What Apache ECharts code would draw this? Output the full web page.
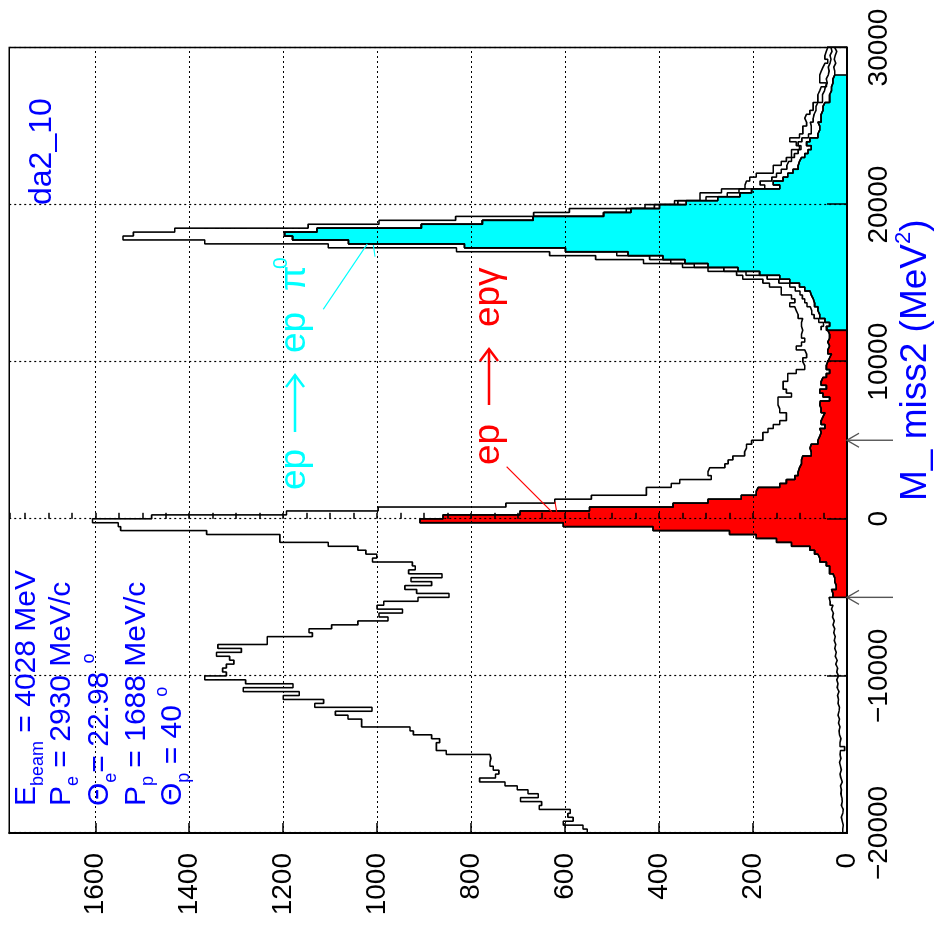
<!DOCTYPE html>
<html>
<head>
<meta charset="utf-8">
<title>M_ miss2</title>
<script src="https://cdn.jsdelivr.net/npm/echarts@6/dist/echarts.min.js"></script>
<style>
  html, body { margin: 0; padding: 0; background: #fff; overflow: hidden; width: 935px; height: 932px; }
  /* The plot is laid out in its natural orientation and turned a quarter turn counter-clockwise. */
  #chart { position: absolute; left: 0; top: 932px; width: 932px; height: 935px;
           transform-origin: 0 0; transform: rotate(-90deg); }
</style>
</head>
<body>
<div id="chart"></div>
<script>
// Missing-mass-squared binning: 200 bins of 250 MeV^2 starting at -20000
const BIN_START = -20000;
const BIN_WIDTH = 250;

// All reconstructed ep events
const allEvents = [
  553, 562, 604, 583, 594, 589, 655, 650, 695, 657,
  679, 702, 728, 782, 748, 741, 753, 760, 758, 760,
  853, 874, 874, 867, 884, 923, 930, 1033, 1033, 1062,
  1089, 1011, 1133, 1114, 1200, 1166, 1285, 1179, 1280, 1367,
  1321, 1329, 1321, 1305, 1314, 1342, 1289, 1339, 1234, 1234,
  1138, 1145, 1097, 1041, 977, 996, 946, 1000, 986, 913,
  847, 916, 941, 884, 928, 862, 933, 919, 925, 1010,
  1001, 1024, 1041, 1104, 1207, 1207, 1363, 1546, 1551, 1606,
  1480, 1193, 998, 726, 622, 544, 427, 427, 374, 356,
  289, 296, 292, 260, 253, 243, 218, 214, 214, 203,
  179, 179, 168, 157, 143, 129, 129, 143, 147, 147,
  147, 118, 129, 136, 136, 126, 126, 108, 90, 94,
  94, 86, 90, 108, 97, 90, 97, 94, 97, 97,
  94, 104, 108, 111, 122, 111, 118, 140, 140, 165,
  179, 222, 235, 296, 350, 433, 535, 633, 831, 1104,
  1367, 1541, 1519, 1431, 1147, 996, 833, 667, 591, 430,
  367, 313, 313, 267, 217, 214, 207, 193, 157, 157,
  140, 129, 118, 118, 101, 108, 122, 101, 94, 94,
  86, 90, 86, 79, 72, 72, 62, 62, 58, 55,
  44, 58, 58, 55, 51, 47, 41, 47, 44, 41
];

// Intermediate selection, shown where it departs from the final one (from bin 128 on)
const LOOSE_FIRST_BIN = 128;
const looseCuts = [
  55, 50, 60, 70, 75, 78, 85, 90, 95, 100,
  110, 122, 145, 170, 215, 262, 325, 375, 420, 490,
  599, 814, 1061, 1180, 1197, 1128, 906, 776, 668, 518,
  470, 410, 360, 300, 255, 230, 175, 185, 160, 150,
  140, 128, 124, 118, 112, 104, 98, 104, 96, 82,
  76, 76, 78, 72, 70, 66, 66, 62, 52, 52,
  48, 46, 42, 44, 40, 38, 40, 36, 34, 36, 32, 34
];

// Final selection
const finalCuts = [
  9, 8, 10, 12, 9, 8, 12, 10, 11, 13,
  12, 14, 10, 13, 15, 12, 14, 16, 13, 15,
  14, 5, 15, 13, 16, 17, 15, 18, 16, 19,
  17, 16, 19, 18, 20, 17, 21, 19, 22, 18,
  22, 20, 24, 21, 25, 23, 26, 24, 27, 25,
  28, 26, 30, 27, 31, 29, 33, 30, 36, 38,
  30, 33, 23, 26, 26, 30, 37, 37, 44, 58,
  62, 69, 79, 118, 150, 193, 250, 413, 604, 909,
  860, 696, 548, 370, 296, 225, 193, 189, 143, 129,
  111, 104, 101, 97, 97, 94, 76, 79, 76, 62,
  58, 55, 58, 47, 55, 51, 47, 55, 58, 57,
  37, 51, 58, 44, 55, 51, 44, 37, 44, 41,
  37, 33, 41, 37, 41, 37, 37, 41, 44, 37,
  47, 58, 62, 62, 69, 72, 76, 79, 90, 101,
  122, 143, 186, 232, 296, 345, 392, 466, 599, 814,
  1061, 1180, 1197, 1128, 906, 776, 668, 518, 460, 399,
  342, 275, 228, 203, 143, 157, 136, 126, 115, 104,
  101, 97, 90, 83, 76, 86, 79, 62, 58, 58,
  62, 55, 55, 51, 51, 47, 37, 37, 33, 33,
  30, 30, 26, 26, 28, 24, 27, 25, 22, 26
];

// Bin ranges (inclusive indices) of the two shaded channels
const GAMMA_BINS = [60, 127];   // ep -> ep gamma
const PI0_BINS = [128, 192];    // ep -> ep pi0

// Exclusivity cut limits marked below the mass axis
const CUT_LIMITS = [-5000, 5000];

// Axis ranges and tick labels
const MASS_RANGE = [-20000, 30000];
const massTicks = [-20000, -10000, 0, 10000, 20000, 30000];
const COUNT_MAX = 1783;
const countTicks = [0, 200, 400, 600, 800, 1000, 1200, 1400, 1600];

const FONT = '"Liberation Sans", Arial, Helvetica, sans-serif';
const BLUE = '#0000ff';
const RED = '#ff0000';
const CYAN = '#00ffff';

function edge(i) { return BIN_START + i * BIN_WIDTH; }

// Outline of a histogram as step points on bin edges
function stepPoints(values, first) {
  const pts = values.map((v, k) => [edge(first + k), v]);
  pts.push([edge(first + values.length), values[values.length - 1]]);
  return pts;
}

// Closed contour of a bin range, dropping to zero at both ends
function filledPoints(values, a, b) {
  const pts = [[edge(a), 0]];
  for (let i = a; i <= b; i++) pts.push([edge(i), values[i]]);
  pts.push([edge(b + 1), values[b]]);
  pts.push([edge(b + 1), 0]);
  return pts;
}

const chart = echarts.init(document.getElementById('chart'), null, { renderer: 'canvas' });

const dotted = { color: '#000', width: 1.2, type: [2, 3] };
const tickStyle = { color: '#000', width: 1.5 };
const histLine = { color: '#000', width: 1.6 };

chart.setOption({
  animation: false,
  backgroundColor: '#ffffff',
  grid: {
    left: 99, right: 47.5, top: 9.3, bottom: 88,
    containLabel: false, outerBoundsMode: 'none',
    show: true, borderColor: '#000', borderWidth: 1.5, backgroundColor: 'transparent'
  },
  xAxis: [{
    type: 'value', min: MASS_RANGE[0], max: MASS_RANGE[1], interval: 10000,
    position: 'bottom', z: 5,
    axisLine: { show: true, onZero: false, lineStyle: { color: '#000', width: 2 } },
    axisTick: { show: true, inside: true, length: 20, customValues: massTicks, lineStyle: tickStyle },
    axisLabel: {
      show: true, customValues: massTicks, margin: 18, fontSize: 28, fontFamily: FONT, color: '#000',
      showMinLabel: true, showMaxLabel: true,
      formatter: v => (v < 0 ? '\u2212' + Math.abs(v) : String(v))
    },
    splitLine: { show: true, lineStyle: dotted }
  }],
  yAxis: [{
    type: 'value', min: 0, max: COUNT_MAX, interval: 200, position: 'left', z: 5,
    axisLine: { show: true, onZero: false, lineStyle: { color: '#000', width: 2 } },
    axisTick: { show: true, inside: true, length: 10, customValues: countTicks, lineStyle: tickStyle },
    axisLabel: { show: true, customValues: countTicks, margin: 20, fontSize: 28, fontFamily: FONT, color: '#000',
      formatter: v => String(v) },
    splitLine: { show: true, lineStyle: dotted }
  }, {
    type: 'value', min: 0, max: COUNT_MAX, interval: 50, position: 'left', z: 5,
    axisLine: { show: false }, axisLabel: { show: false }, splitLine: { show: false },
    axisTick: { show: true, inside: true, length: 6, lineStyle: tickStyle }
  }],
  series: [
    { name: 'all', type: 'line', step: 'end', data: stepPoints(allEvents, 0),
      showSymbol: false, symbol: 'none', lineStyle: histLine, z: 2, silent: true },
    { name: 'loose', type: 'line', step: 'end', data: stepPoints(looseCuts, LOOSE_FIRST_BIN),
      showSymbol: false, symbol: 'none', lineStyle: histLine, z: 2, silent: true },
    { name: 'gamma', type: 'line', step: 'end', data: filledPoints(finalCuts, GAMMA_BINS[0], GAMMA_BINS[1]),
      showSymbol: false, symbol: 'none', lineStyle: histLine, areaStyle: { color: RED, opacity: 1 }, z: 3, silent: true },
    { name: 'pi0', type: 'line', step: 'end', data: filledPoints(finalCuts, PI0_BINS[0], PI0_BINS[1]),
      showSymbol: false, symbol: 'none', lineStyle: histLine, areaStyle: { color: CYAN, opacity: 1 }, z: 3, silent: true },
    { name: 'final', type: 'line', step: 'end', data: stepPoints(finalCuts, 0),
      showSymbol: false, symbol: 'none', lineStyle: histLine, z: 4, silent: true }
  ]
});

// Text placed by its baseline
function text(str, x, baseline, size, color, rich) {
  const style = {
    text: str, fill: color, fontSize: size, fontFamily: FONT,
    align: 'left', verticalAlign: 'middle', textAlign: 'left', textVerticalAlign: 'middle'
  };
  if (rich) style.rich = rich;
  return { type: 'text', x: x, y: baseline - 0.3465 * size, z: 20, silent: true, style: style };
}

// Right arrow drawn as a shaft with an open head
function arrow(u0, u1, v, color) {
  return [
    { type: 'line', z: 20, silent: true, shape: { x1: u0, y1: v, x2: u1, y2: v },
      style: { stroke: color, lineWidth: 2.4 } },
    { type: 'polyline', z: 20, silent: true,
      shape: { points: [[u1 - 12, v - 9], [u1, v], [u1 - 12, v + 9]] },
      style: { stroke: color, lineWidth: 2.4, fill: null } }
  ];
}

// Rich styles for the run-condition block: main text, subscript, superscript
function legendRich() {
  return {
    m: { fontSize: 30, lineHeight: 40, fontFamily: FONT, fill: BLUE },
    s: { fontSize: 18, lineHeight: 18, fontFamily: FONT, fill: BLUE, verticalAlign: 'bottom' },
    u: { fontSize: 18, lineHeight: 22, fontFamily: FONT, fill: BLUE, verticalAlign: 'top' }
  };
}

const graphics = [];

// Run conditions
const legendLines = [
  ['{m|E}{s|beam}{m| = 4028 MeV}', 37],
  ['{m|P}{s|e}{m| = 2930 MeV/c}', 72],
  ['{m|\u0398}{s|e}{m|= 22.98 }{u|o}', 110],
  ['{m|P}{s|p}{m| = 1688 MeV/c}', 147],
  ['{m|\u0398}{s|p}{m| = 40 }{u|o}', 183]
];
legendLines.forEach(([s, base]) => graphics.push(text(s, 126, base, 30, BLUE, legendRich())));

// Histogram name
graphics.push(text('da2_10', 727, 53, 32, BLUE));

// Axis title
graphics.push(text('{m|M_ miss2 (MeV}{u|2}{m|)}', 431, 929, 37, BLUE, {
  m: { fontSize: 37, lineHeight: 46, fontFamily: FONT, fill: BLUE },
  u: { fontSize: 22, lineHeight: 22, fontFamily: FONT, fill: BLUE, verticalAlign: 'top' }
}));

// Channel labels
graphics.push(text('ep', 442, 308, 37, CYAN));
arrow(500, 557, 295, CYAN).forEach(g => graphics.push(g));
graphics.push(text('ep', 579, 308, 37, CYAN));
graphics.push(text('\u03c0', 641, 308, 37, CYAN));
graphics.push(text('0', 663, 288, 21, CYAN));

graphics.push(text('ep', 467, 502, 37, RED));
arrow(527, 583, 489, RED).forEach(g => graphics.push(g));
graphics.push(text('ep', 605, 502, 37, RED));
graphics.push(text('\u03b3', 646, 502, 37, RED));

// Leader lines from the labels to the peaks
graphics.push({ type: 'line', z: 20, silent: true, shape: { x1: 622.7, y1: 323.3, x2: 688, y2: 367.3 },
  style: { stroke: CYAN, lineWidth: 1.2 } });
graphics.push({ type: 'line', z: 20, silent: true, shape: { x1: 687, y1: 373.3, x2: 675.3, y2: 375 },
  style: { stroke: CYAN, lineWidth: 1.2 } });
graphics.push({ type: 'line', z: 20, silent: true, shape: { x1: 465.3, y1: 506.7, x2: 420.3, y2: 551.7 },
  style: { stroke: RED, lineWidth: 1.2 } });
graphics.push({ type: 'line', z: 20, silent: true, shape: { x1: 430.3, y1: 555, x2: 420.3, y2: 556.7 },
  style: { stroke: RED, lineWidth: 1.2 } });

// Cut markers under the mass axis
const axisV = chart.convertToPixel({ yAxisIndex: 0 }, 0);
CUT_LIMITS.forEach(cut => {
  const u = chart.convertToPixel({ xAxisIndex: 0 }, cut);
  graphics.push({ type: 'line', z: 20, silent: true, shape: { x1: u, y1: axisV + 46, x2: u, y2: axisV },
    style: { stroke: '#555', lineWidth: 1.4 } });
  graphics.push({ type: 'polyline', z: 20, silent: true,
    shape: { points: [[u - 7, axisV + 12], [u, axisV], [u + 7, axisV + 12]] },
    style: { stroke: '#555', lineWidth: 1.4, fill: null } });
});

chart.setOption({ graphic: { elements: graphics } });
</script>
</body>
</html>
